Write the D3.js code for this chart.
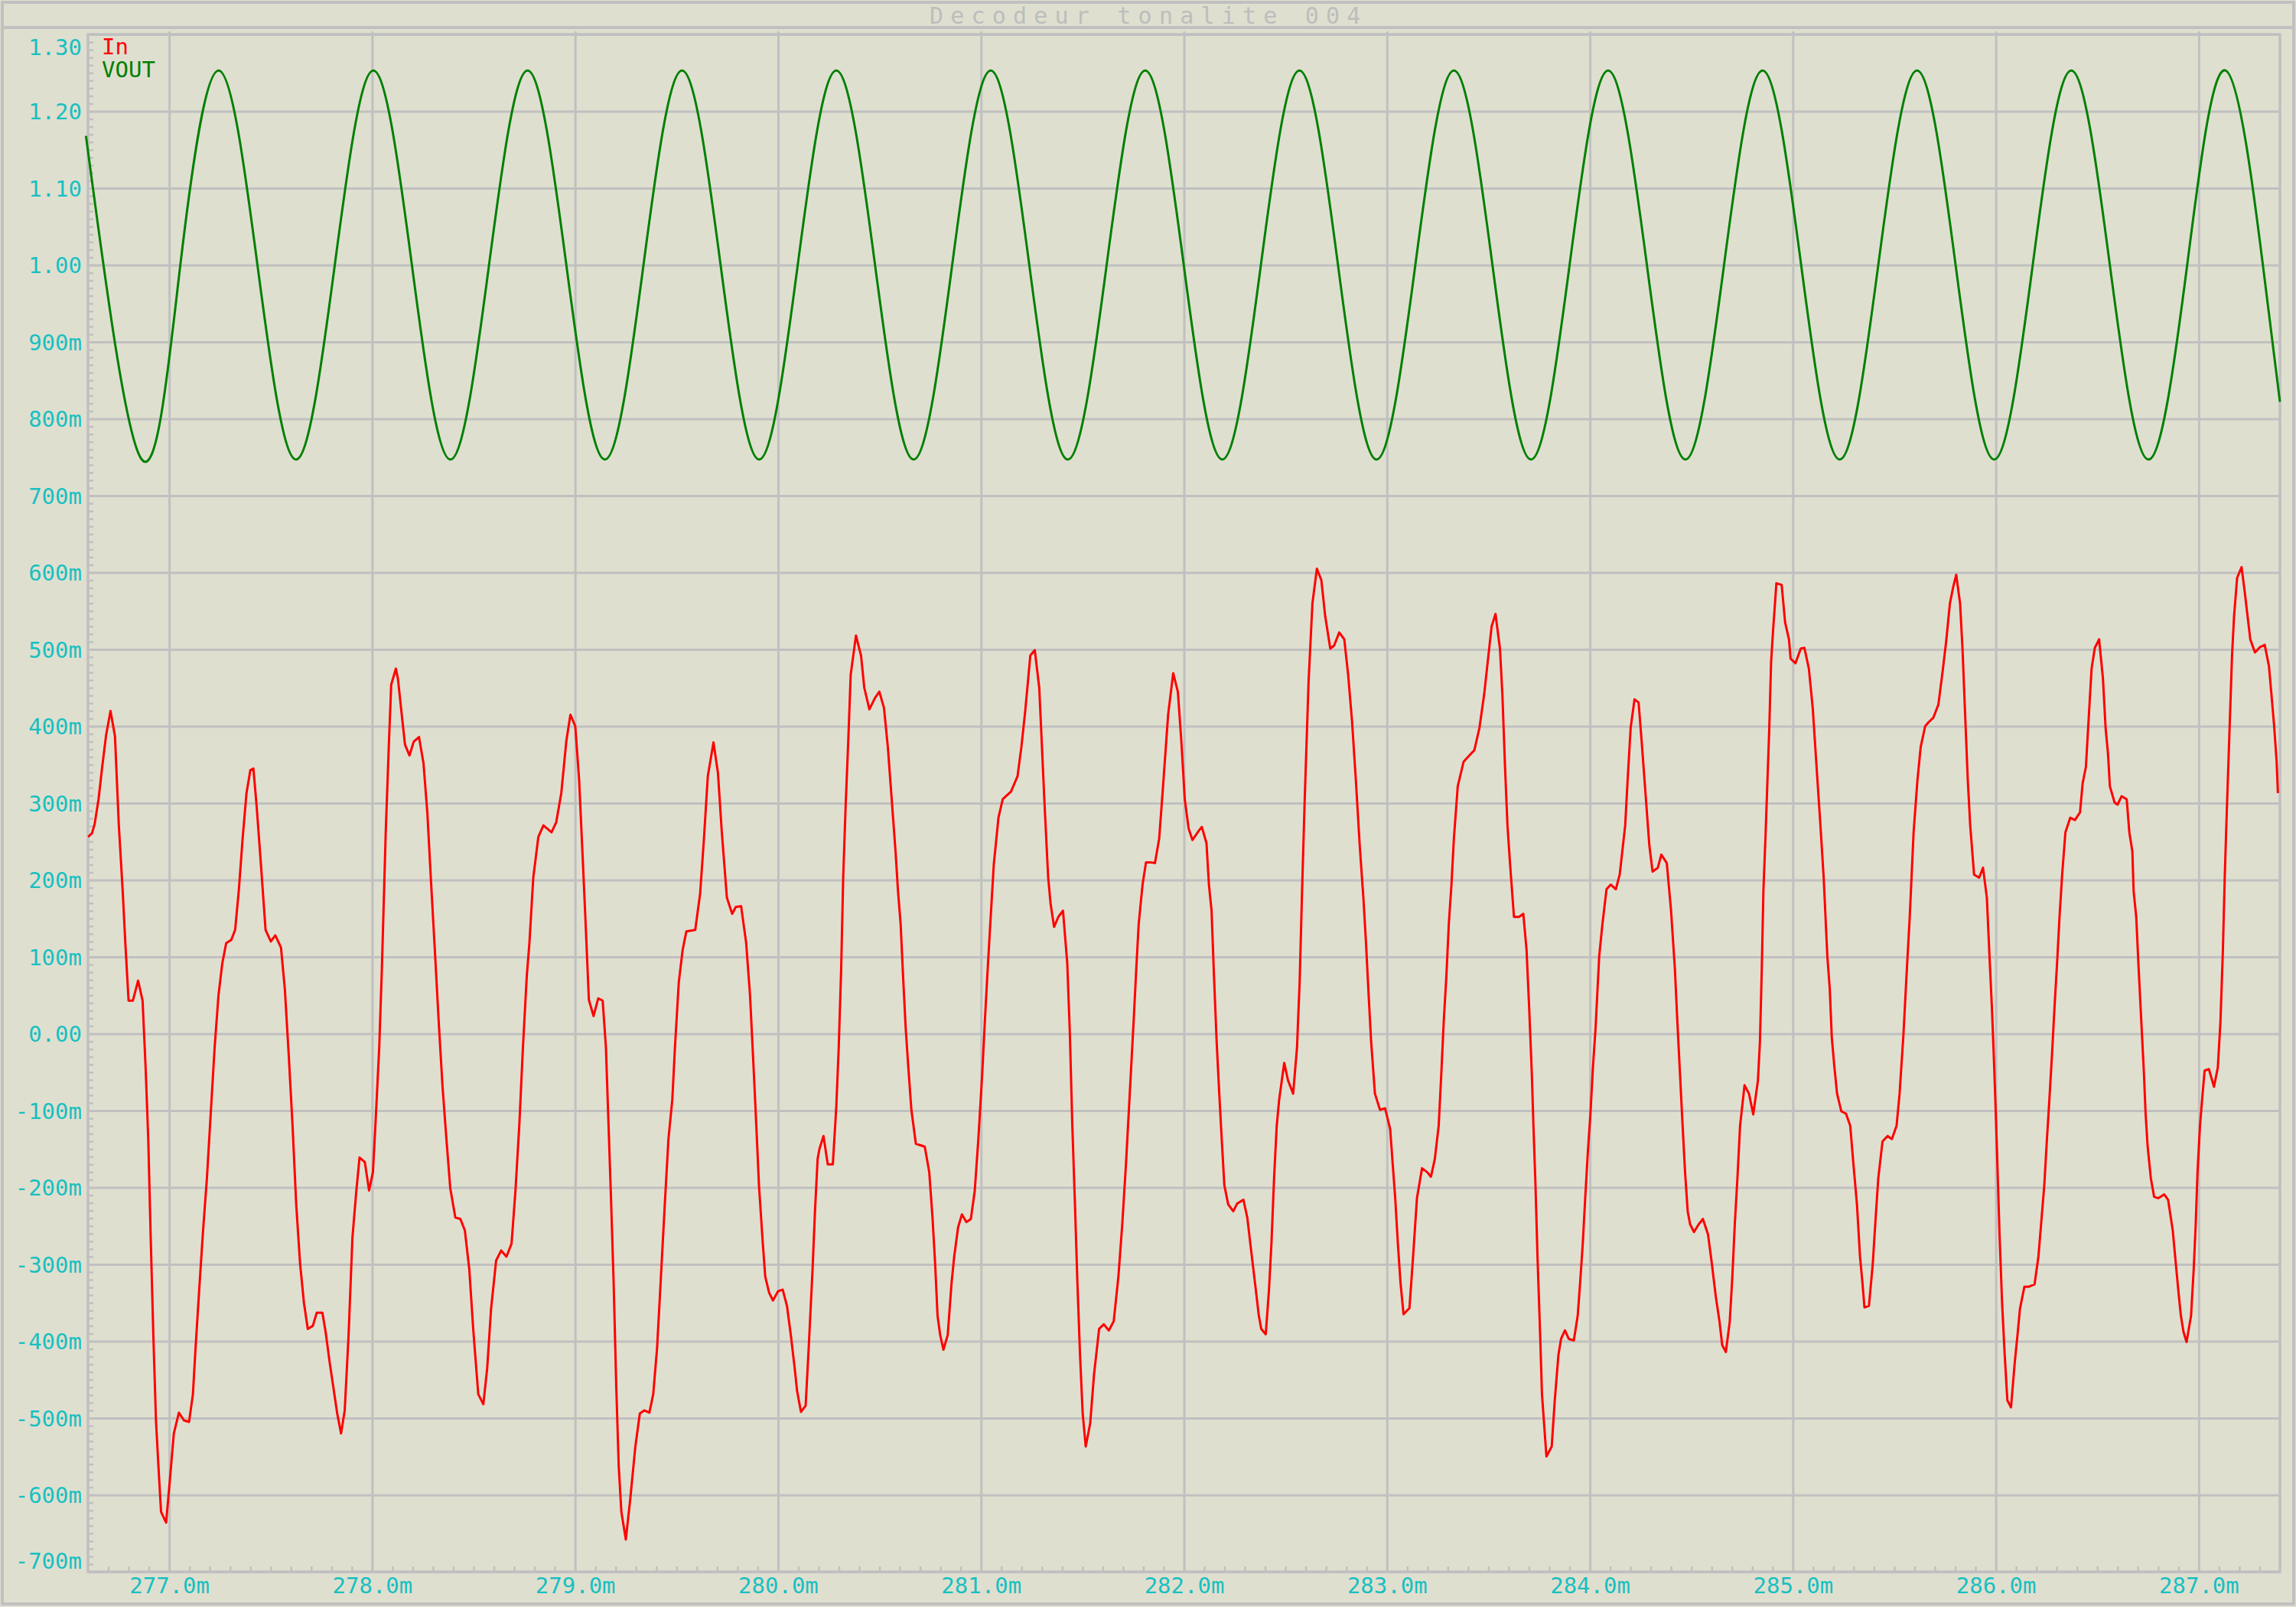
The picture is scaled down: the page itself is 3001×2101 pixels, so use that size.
<!DOCTYPE html>
<html><head><meta charset="utf-8">
<script src="https://cdn.jsdelivr.net/npm/d3@7"></script>
<style>html,body{margin:0;padding:0;background:#dfdfd0;}svg{display:block}</style>
</head><body><svg id="chart" width="3001" height="2101"></svg>
<script>
const chartTitle = "Decodeur tonalite 004";
const seriesNames = ["In", "VOUT"];
const seriesColors = ["#ff0000", "#008000"];
const xTicks = [277, 278, 279, 280, 281, 282, 283, 284, 285, 286, 287];
const yTicks = [1.3, 1.2, 1.1, 1.0, 0.9, 0.8, 0.7, 0.6, 0.5, 0.4, 0.3, 0.2, 0.1, 0, -0.1, -0.2, -0.3, -0.4, -0.5, -0.6, -0.7];

// VOUT: [time ms, volts] read at extrema and mid-crossings
const voutSeries = [
[276.590,1.168],[276.865,0.747],[277.055,1.000],[277.245,1.253],[277.435,1.000],[277.625,0.747],[277.816,1.000],[278.006,1.253],
[278.196,1.000],[278.386,0.747],[278.576,1.000],[278.766,1.253],[278.957,1.000],[279.147,0.747],[279.337,1.000],[279.527,1.253],
[279.717,1.000],[279.907,0.747],[280.097,1.000],[280.287,1.253],[280.478,1.000],[280.668,0.747],[280.858,1.000],[281.048,1.253],
[281.238,1.000],[281.428,0.747],[281.619,1.000],[281.809,1.253],[281.999,1.000],[282.189,0.747],[282.379,1.000],[282.569,1.253],
[282.759,1.000],[282.949,0.747],[283.140,1.000],[283.330,1.253],[283.520,1.000],[283.710,0.747],[283.900,1.000],[284.090,1.253],
[284.281,1.000],[284.471,0.747],[284.661,1.000],[284.851,1.253],[285.041,1.000],[285.231,0.747],[285.421,1.000],[285.612,1.253],
[285.802,1.000],[285.992,0.747],[286.182,1.000],[286.372,1.253],[286.562,1.000],[286.752,0.747],[286.943,1.000],[287.133,1.253],
[287.316,1.000],[287.400,0.822]
];

// In: [time ms, millivolts]
const inSeries = [
[276.601,256],[276.620,261],[276.633,273],[276.652,305],[276.670,347],[276.689,388],[276.711,420],[276.733,387],[276.752,271],[276.771,186],[276.784,118],[276.800,43],[276.821,43],[276.847,69],[276.869,43],[276.884,-44],[276.897,-137],[276.909,-265],[276.922,-392],[276.935,-503],[276.947,-562],[276.960,-622],[276.985,-636],[277.004,-579],[277.023,-520],[277.048,-493],[277.073,-503],[277.098,-505],[277.117,-469],[277.130,-409],[277.148,-333],[277.167,-256],[277.186,-188],[277.205,-103],[277.224,-18],[277.243,50],[277.262,92],[277.281,118],[277.306,122],[277.325,135],[277.343,186],[277.362,254],[277.381,313],[277.400,343],[277.415,345],[277.431,296],[277.450,228],[277.475,135],[277.501,120],[277.523,128],[277.551,112],[277.570,58],[277.589,-27],[277.608,-120],[277.626,-222],[277.645,-299],[277.664,-350],[277.683,-384],[277.708,-380],[277.727,-363],[277.755,-363],[277.771,-388],[277.790,-426],[277.809,-460],[277.828,-494],[277.847,-520],[277.865,-490],[277.884,-392],[277.903,-265],[277.922,-205],[277.938,-161],[277.964,-167],[277.985,-204],[278.004,-180],[278.016,-120],[278.035,-18],[278.048,84],[278.067,262],[278.082,373],[278.094,454],[278.117,475],
[278.127,462],[278.146,415],[278.162,376],[278.184,362],[278.205,380],[278.231,386],[278.253,352],[278.272,288],[278.291,194],[278.309,109],[278.328,16],[278.347,-69],[278.366,-137],[278.385,-201],[278.410,-239],[278.435,-241],[278.457,-256],[278.479,-307],[278.498,-384],[278.523,-469],[278.548,-482],[278.567,-435],[278.586,-358],[278.611,-295],[278.636,-282],[278.662,-290],[278.687,-273],[278.706,-205],[278.725,-120],[278.743,-18],[278.762,75],[278.775,118],[278.794,203],[278.819,256],[278.844,271],[278.884,262],[278.907,275],[278.932,313],[278.957,381],[278.977,415],[279.001,400],[279.020,330],[279.039,220],[279.052,143],[279.068,44],[279.091,23],[279.114,46],[279.136,43],[279.152,-18],[279.165,-120],[279.177,-214],[279.190,-324],[279.203,-460],[279.215,-562],[279.228,-622],[279.250,-658],[279.272,-605],[279.297,-537],[279.319,-494],[279.341,-490],[279.366,-493],[279.385,-469],[279.404,-409],[279.423,-316],[279.442,-222],[279.460,-137],[279.479,-86],[279.492,-18],[279.511,67],[279.530,109],[279.548,133],[279.592,135],
[279.616,182],[279.635,254],[279.654,335],[279.682,379],[279.704,339],[279.723,262],[279.748,177],[279.774,156],[279.792,165],[279.818,166],[279.843,118],[279.862,50],[279.881,-52],[279.893,-120],[279.906,-197],[279.925,-273],[279.937,-316],[279.956,-337],[279.975,-347],[280.000,-335],[280.023,-333],[280.044,-354],[280.063,-392],[280.082,-435],[280.094,-465],[280.113,-492],[280.136,-484],[280.151,-409],[280.170,-307],[280.182,-231],[280.195,-163],[280.204,-150],[280.224,-133],[280.245,-170],[280.270,-170],[280.287,-95],[280.299,-18],[280.311,84],[280.321,203],[280.333,296],[280.346,381],[280.358,467],[280.384,518],[280.409,492],[280.425,450],[280.450,422],[280.478,437],[280.499,445],[280.522,424],[280.541,373],[280.560,305],[280.579,237],[280.591,186],[280.604,143],[280.616,75],[280.629,7],[280.642,-44],[280.657,-99],[280.679,-143],[280.723,-147],[280.745,-180],[280.761,-239],[280.774,-299],[280.786,-367],[280.799,-392],[280.815,-411],[280.836,-392],[280.855,-324],[280.868,-290],[280.887,-252],[280.906,-235],[280.928,-245],[280.950,-241],[280.969,-205],[280.987,-137],[281.006,-52],[281.019,16],[281.031,75],[281.044,135],[281.063,220],[281.086,281],[281.107,305],
[281.148,315],[281.180,335],[281.199,373],[281.218,420],[281.243,492],[281.265,499],[281.287,450],[281.299,381],[281.312,305],[281.331,203],[281.343,169],[281.360,139],[281.381,152],[281.404,160],[281.425,92],[281.438,-1],[281.450,-120],[281.463,-222],[281.475,-324],[281.488,-418],[281.501,-494],[281.516,-537],[281.538,-507],[281.557,-443],[281.582,-384],[281.605,-378],[281.630,-386],[281.654,-374],[281.677,-316],[281.696,-248],[281.714,-171],[281.733,-78],[281.752,16],[281.765,84],[281.777,143],[281.796,194],[281.813,223],[281.834,223],[281.857,222],[281.878,254],[281.897,322],[281.922,415],[281.947,469],[281.970,445],[281.987,381],[282.004,305],[282.023,267],[282.042,252],[282.073,264],[282.088,269],[282.111,248],[282.123,194],[282.136,160],[282.148,75],[282.161,-10],[282.174,-78],[282.186,-137],[282.199,-197],[282.218,-222],[282.243,-231],[282.262,-221],[282.293,-216],[282.312,-239],[282.331,-282],[282.350,-324],[282.369,-367],[282.381,-384],[282.403,-391],[282.419,-333],[282.431,-273],[282.444,-188],[282.457,-120],[282.469,-86],[282.494,-38],[282.513,-61],[282.538,-78],[282.557,-18],[282.570,67],[282.582,186],[282.595,305],
[282.614,458],[282.633,560],[282.655,605],[282.677,590],[282.696,543],[282.721,501],[282.740,505],[282.765,522],[282.790,513],[282.809,467],[282.828,407],[282.847,330],[282.866,245],[282.884,177],[282.897,118],[282.910,50],[282.922,-9],[282.941,-78],[282.966,-99],[282.991,-97],[283.016,-124],[283.029,-171],[283.041,-214],[283.054,-273],[283.067,-324],[283.082,-365],[283.111,-357],[283.129,-290],[283.148,-214],[283.173,-175],[283.198,-180],[283.217,-186],[283.236,-163],[283.255,-120],[283.268,-52],[283.280,16],[283.293,75],[283.305,143],[283.318,194],[283.330,254],[283.349,322],[283.378,354],[283.406,362],[283.431,369],[283.456,398],[283.479,441],[283.500,492],[283.516,530],[283.535,546],[283.557,501],[283.569,441],[283.582,347],[283.594,271],[283.607,220],[283.626,152],[283.651,152],[283.672,156],[283.688,109],[283.701,33],[283.714,-52],[283.722,-120],[283.732,-197],[283.742,-290],[283.755,-392],[283.764,-469],[283.786,-550],[283.812,-537],[283.827,-477],[283.845,-418],[283.858,-397],[283.877,-386],[283.896,-397],[283.921,-399],[283.940,-367],[283.952,-324],[283.965,-273],[283.977,-214],[283.990,-154],[284.003,-103],[284.015,-44],[284.028,7],[284.046,101],[284.062,143],[284.082,188],[284.103,194],[284.128,188],[284.147,207],
[284.174,271],[284.186,330],[284.201,398],[284.220,435],[284.240,431],[284.255,381],[284.274,313],[284.293,245],[284.309,211],[284.335,216],[284.352,233],[284.379,222],[284.400,160],[284.419,84],[284.431,16],[284.444,-52],[284.457,-120],[284.469,-180],[284.482,-231],[284.494,-248],[284.513,-258],[284.536,-248],[284.557,-241],[284.582,-261],[284.601,-299],[284.620,-341],[284.639,-375],[284.652,-405],[284.670,-414],[284.689,-375],[284.702,-316],[284.714,-248],[284.727,-188],[284.740,-120],[284.762,-67],[284.784,-78],[284.805,-105],[284.828,-61],[284.838,-10],[284.847,84],[284.855,186],[284.865,254],[284.875,330],[284.884,398],[284.893,484],[284.903,526],[284.919,586],[284.945,584],[284.962,535],[284.981,513],[284.989,488],[285.013,482],[285.039,501],[285.057,502],[285.079,475],[285.098,424],[285.117,347],[285.136,271],[285.152,203],[285.170,101],[285.182,58],[285.192,-5],[285.205,-44],[285.218,-78],[285.239,-101],[285.262,-104],[285.283,-120],[285.299,-171],[285.316,-222],[285.331,-290],[285.343,-324],[285.353,-356],[285.375,-354],[285.394,-299],[285.406,-248],[285.421,-188],[285.442,-140],[285.467,-133],[285.488,-137],[285.511,-120],[285.526,-78],[285.545,-1],[285.560,75],[285.576,152],[285.595,262],[285.614,330],[285.630,373],[285.652,400],[285.668,405],
[285.692,411],[285.717,428],[285.736,467],[285.755,509],[285.774,560],[285.790,581],[285.805,597],[285.824,560],[285.836,501],[285.849,415],[285.862,330],[285.874,271],[285.893,207],[285.918,203],[285.937,216],[285.956,177],[285.969,101],[285.981,33],[285.991,-35],[286.000,-103],[286.010,-188],[286.019,-265],[286.031,-350],[286.044,-418],[286.057,-477],[286.075,-486],[286.094,-426],[286.107,-392],[286.119,-358],[286.141,-329],[286.164,-329],[286.191,-326],[286.210,-290],[286.226,-239],[286.239,-197],[286.252,-137],[286.264,-86],[286.277,-27],[286.289,33],[286.302,92],[286.314,152],[286.327,207],[286.343,262],[286.367,281],[286.390,278],[286.415,288],[286.428,326],[286.444,347],[286.457,407],[286.472,475],[286.488,502],[286.509,513],[286.528,462],[286.541,398],[286.553,364],[286.562,322],[286.585,301],[286.600,298],[286.620,309],[286.645,305],[286.658,262],[286.673,237],[286.679,186],[286.692,152],[286.704,84],[286.717,16],[286.730,-52],[286.738,-103],[286.748,-146],[286.764,-188],[286.780,-212],[286.801,-214],[286.830,-209],[286.849,-216],[286.872,-256],[286.887,-299],[286.899,-333],[286.912,-367],[286.925,-388],[286.940,-401],[286.962,-367],[286.975,-307],[286.985,-248],[286.994,-180],[287.006,-120],[287.019,-78],[287.029,-48],[287.050,-46],[287.075,-69],[287.094,-44],[287.107,16],[287.119,109],[287.128,203],[287.138,288],[287.151,390],[287.164,492],[287.174,543],
[287.189,593],[287.211,607],[287.226,576],[287.242,540],[287.254,513],[287.277,496],[287.302,503],[287.325,506],[287.346,478],[287.358,442],[287.371,402],[287.384,353],[287.390,313]
];

// ---------- drawing ----------
const W = 3001, H = 2101;
const plotL = 115, plotR = 2980, plotT = 45, plotB = 2055;
const GRID = "#c0c0c0", LABEL = "#18c0c0", FONT = "DejaVu Sans Mono, Liberation Mono, monospace";

const svg = d3.select("#chart");
svg.append("rect").attr("width", W).attr("height", H).attr("fill", "#dfdfd0");

const x = d3.scaleLinear().domain([276.60, 287.40]).range([plotL, plotR]);
const y = d3.scaleLinear().domain([-0.7, 1.3]).range([plotB, plotT]);

// outer frame & title bar
svg.append("rect").attr("x", 3).attr("y", 3).attr("width", W - 6).attr("height", H - 7)
  .attr("fill", "none").attr("stroke", GRID).attr("stroke-width", 4);
svg.append("line").attr("x1", 3).attr("x2", W - 3).attr("y1", 36).attr("y2", 36)
  .attr("stroke", GRID).attr("stroke-width", 4);
svg.append("text").attr("x", 1215).attr("y", 31).text(chartTitle)
  .attr("font-family", FONT).attr("font-size", 30).attr("letter-spacing", 9.2)
  .attr("fill", "#bdbdbd");

// gridlines
const gx = svg.append("g").attr("transform", `translate(0,${plotB})`)
  .call(d3.axisBottom(x).tickValues(xTicks).tickSize(-(plotB - plotT + 4)).tickFormat(""));
const gy = svg.append("g").attr("transform", `translate(${plotL},0)`)
  .call(d3.axisLeft(y).tickValues(yTicks).tickSize(-(plotR - plotL)).tickFormat(""));
[gx, gy].forEach(g => {
  g.select(".domain").remove();
  g.selectAll("line").attr("stroke", GRID).attr("stroke-width", 3);
});

// minor ticks
const xMinor = d3.range(2766, 2875).map(i => i / 10).filter(v => v > 276.6 && v < 287.4);
const yMinor = d3.range(-70, 131).map(i => i / 100);
const mx = svg.append("g").attr("transform", `translate(0,${plotB})`)
  .call(d3.axisBottom(x).tickValues(xMinor).tickSize(-7).tickFormat(""));
const my = svg.append("g").attr("transform", `translate(${plotL},0)`)
  .call(d3.axisLeft(y).tickValues(yMinor).tickSize(-7).tickFormat(""));
[mx, my].forEach(g => {
  g.select(".domain").remove();
  g.selectAll("line").attr("stroke", GRID).attr("stroke-width", 2.5);
});

// plot frame
svg.append("rect").attr("x", plotL).attr("y", plotT).attr("width", plotR - plotL).attr("height", plotB - plotT)
  .attr("fill", "none").attr("stroke", GRID).attr("stroke-width", 3.5);

// axis labels
const fmtY = v => {
  if (Math.abs(v) < 1e-9) return "0.00";
  if (Math.abs(v) >= 0.999) return v.toFixed(2);
  return Math.round(v * 1000) + "m";
};
const ly = svg.append("g").attr("transform", `translate(${plotL},0)`)
  .call(d3.axisLeft(y).tickValues(yTicks).tickFormat(fmtY).tickSize(0).tickPadding(8));
ly.select(".domain").remove();
ly.selectAll("text").attr("font-family", FONT).attr("font-size", 29).attr("fill", LABEL)
  .attr("dy", "0.36em")
  .attr("y", d => d === 1.3 ? 16 : (d === -0.7 ? -15 : 0));

const lx = svg.append("g").attr("transform", `translate(0,${plotB})`)
  .call(d3.axisBottom(x).tickValues(xTicks).tickFormat(d => d.toFixed(1) + "m").tickSize(0).tickPadding(7));
lx.select(".domain").remove();
lx.selectAll("text").attr("font-family", FONT).attr("font-size", 29).attr("fill", LABEL);

// series
const lineIn = d3.line().x(d => x(d[0])).y(d => y(d[1] / 1000)).curve(d3.curveLinear);
const lineOut = d3.line().x(d => x(d[0])).y(d => y(d[1])).curve(d3.curveNatural);
svg.append("path").datum(voutSeries).attr("d", lineOut).attr("fill", "none")
  .attr("stroke", seriesColors[1]).attr("stroke-width", 3).attr("stroke-linejoin", "round");
svg.append("path").datum(inSeries).attr("d", lineIn).attr("fill", "none")
  .attr("stroke", seriesColors[0]).attr("stroke-width", 3).attr("stroke-linejoin", "round");

// legend
svg.selectAll("text.legend").data(seriesNames).enter().append("text")
  .attr("class", "legend").attr("x", 133).attr("y", (d, i) => 71 + i * 30)
  .attr("font-family", FONT).attr("font-size", 29)
  .attr("fill", (d, i) => seriesColors[i]).text(d => d);
</script>
</body></html>
